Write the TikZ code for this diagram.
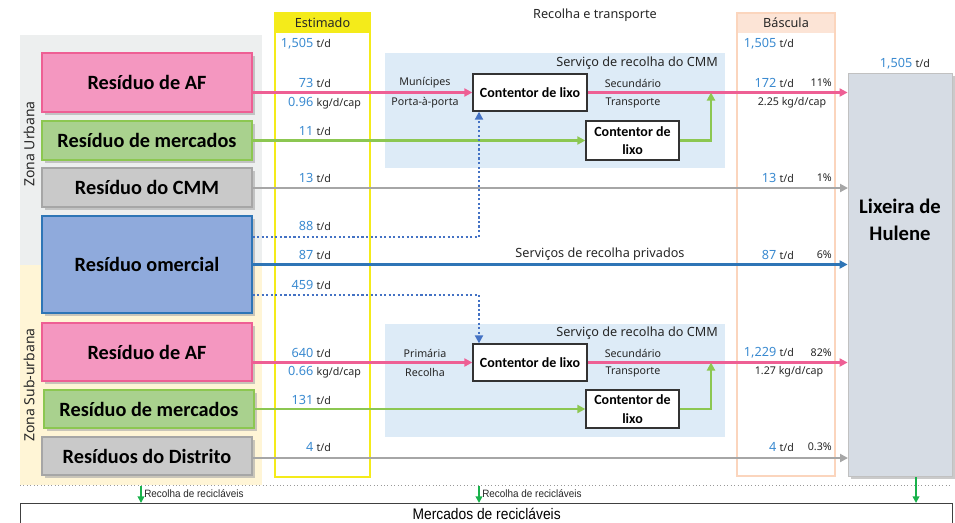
\documentclass[tikz,border=0pt]{standalone}
\usepackage{fontspec}
\setmainfont{Noto Sans}
\newfontfamily\boxfont{Carlito}
\newfontfamily\narrowfont{Liberation Sans}
\usetikzlibrary{shadows,arrows.meta}
\definecolor{urbbg}{HTML}{EDEFEF}
\definecolor{subbg}{HTML}{FFF5D6}
\definecolor{pinkf}{HTML}{F497C0}
\definecolor{pinkd}{HTML}{EE5F94}
\definecolor{greenf}{HTML}{A9D18E}
\definecolor{greend}{HTML}{8CC751}
\definecolor{grayf}{HTML}{C9C9C9}
\definecolor{grayd}{HTML}{A6A6A6}
\definecolor{bluef}{HTML}{8FAADC}
\definecolor{blued}{HTML}{2E75B6}
\definecolor{bluedot}{HTML}{4472C4}
\definecolor{svbg}{HTML}{DDEBF7}
\definecolor{lixf}{HTML}{D6DCE4}
\definecolor{yel}{HTML}{F4EB1A}
\definecolor{peach}{HTML}{FBD5BD}
\definecolor{peachf}{HTML}{FCE4D6}
\definecolor{numblue}{HTML}{3A8AD0}
\definecolor{txt}{HTML}{262626}
\definecolor{recg}{HTML}{19B24B}
\newcommand\nm[1]{{\fontsize{9.5}{11}\selectfont\color{numblue}#1}}
\newcommand\est[2]{\makebox[25.5pt][r]{\nm{#1}}\hspace{2.5pt}#2}
\tikzset{
  src/.style={draw, line width=1pt, minimum width=157.5pt, inner sep=0pt,
    font=\boxfont\bfseries\fontsize{15.2}{18}\selectfont,
    drop shadow={shadow xshift=2pt, shadow yshift=-2pt, fill=black!35, opacity=0.6}},
  cont/.style={draw=black!80, fill=white, line width=1pt, inner sep=0pt, align=center,
    font=\boxfont\bfseries\fontsize{10.5}{14}\selectfont},
  lbl/.style={inner sep=0pt, text=txt, font=\fontsize{8}{9.6}\selectfont},
  flow/.style={line width=2pt, -{Triangle[length=6pt,width=6pt]}},
  dotflow/.style={line width=2pt, bluedot, dash pattern=on 1.6pt off 1.8pt, -{Triangle[length=6pt,width=6pt]}},
  rec/.style={line width=1.3pt, recg, -{Triangle[length=5pt,width=5pt]}},
}
\begin{document}
\begin{tikzpicture}[x=0.75pt,y=-0.75pt]
\useasboundingbox (0,0) rectangle (955,522);
% zone backgrounds
\fill[urbbg] (20,35) rectangle (262,265);
\fill[subbg] (20,265) rectangle (262,485);
\node[lbl, rotate=90, font=\fontsize{10.5}{12}\selectfont] (zu) at (29,144) {Zona Urbana};
\node[lbl, rotate=90, font=\fontsize{10.5}{12}\selectfont] (zs) at (29,385) {Zona Sub-urbana};
% service areas
\fill[svbg] (385,53) rectangle (725,168);
\fill[svbg] (385,324) rectangle (725,437);
\node[lbl, anchor=east, font=\fontsize{9.5}{11}\selectfont] (sv1) at (718,63) {Serviço de recolha do CMM};
\node[lbl, anchor=east, font=\fontsize{9.5}{11}\selectfont] (sv2) at (718,333) {Serviço de recolha do CMM};
% columns
\fill[yel] (275,13) rectangle (370,33);
\draw[yel, line width=2pt] (275,13) rectangle (370,477);
\node[lbl, font=\fontsize{9.5}{11}\selectfont] (esth) at (322.5,23) {Estimado};
\fill[peachf] (737,13) rectangle (835,33);
\draw[peach, line width=1.6pt] (737,13) rectangle (835,476);
\node[lbl, font=\fontsize{9.5}{11}\selectfont] (basch) at (786,23) {Báscula};
\node[lbl, font=\fontsize{9.5}{11}\selectfont] (rt) at (595,15) {Recolha e transporte};
% source boxes
\node[src, fill=pinkf, draw=pinkd, minimum height=44.25pt] (afU) at (147,82.5) {Resíduo de AF};
\node[src, fill=greenf, draw=greend, minimum height=29.25pt] (merU) at (147,140.5) {Resíduo de mercados};
\node[src, fill=grayf, draw=grayd, minimum height=29.25pt] (cmmU) at (147,187.5) {Resíduo do CMM};
\node[src, fill=bluef, draw=blued, minimum height=72.75pt] (com) at (147,264.5) {Resíduo omercial};
\node[src, fill=pinkf, draw=pinkd, minimum height=43.5pt] (afS) at (147,352) {Resíduo de AF};
\node[src, fill=greenf, draw=greend, minimum height=28.5pt] (merS) at (149,409) {Resíduo de mercados};
\node[src, fill=grayf, draw=grayd, minimum height=28.5pt] (dist) at (147,456) {Resíduos do Distrito};
% containers
\node[cont, minimum width=85.5pt, minimum height=27.75pt] (c1) at (530,92.5) {Contentor de lixo};
\node[cont, minimum width=69.75pt, minimum height=29.25pt] (c2) at (632.5,140.5) {Contentor de\\lixo};
\node[cont, minimum width=85.5pt, minimum height=27.75pt] (c3) at (530,362.5) {Contentor de lixo};
\node[cont, minimum width=69.75pt, minimum height=28.5pt] (c4) at (632.5,409) {Contentor de\\lixo};
% landfill
\node[draw=grayd!70, fill=lixf, line width=0.6pt, minimum width=78pt, minimum height=302.25pt, inner sep=0pt,
  drop shadow={shadow xshift=2pt, shadow yshift=-2pt, fill=black!35, opacity=0.6}] (lix) at (900,274.5) {};
\node[align=center, inner sep=0pt, font=\boxfont\bfseries\fontsize{15.5}{20}\selectfont] (lixt) at (900,220) {Lixeira de\\Hulene};
% junction coordinates
\coordinate (j1) at (711,92.5);
\coordinate (j2) at (711,362.5);
\coordinate (d1) at (479,237);
\coordinate (d2) at (479,295);
% flows urban
\draw[flow, pinkd] (afU.east |- c1) -- (c1.west);
\draw[flow, pinkd] (c1.east) -- (c1.east -| lix.west);
\draw[flow, greend] (merU.east) -- (c2.west);
\draw[flow, greend] (c2.east) -| (j1);
\draw[flow, grayd, line width=1.5pt] (cmmU.east |- 0,188) -- (848,188) coordinate (g1) ;
\draw[dotflow] (com.east |- d1) -- (d1) -- (d1 |- c1.south);
\draw[flow, blued, line width=1.8pt] (com.east) -- (com.east -| lix.west);
\draw[dotflow] (com.east |- d2) -- (d2) -- (d2 |- c3.north);
% flows suburban
\draw[flow, pinkd] (afS.east |- c3) -- (c3.west);
\draw[flow, pinkd] (c3.east) -- (c3.east -| lix.west);
\draw[flow, greend] (merS.east) -- (c4.west);
\draw[flow, greend] (c4.east) -| (j2);
\draw[flow, grayd, line width=1.5pt] (dist.east |- 0,458) -- (848,458) coordinate (g2);
% service labels
\node[lbl] (m1) at (425,83) {Munícipes};
\node[lbl] (m2) at (425,103) {Porta-à-porta};
\node[lbl] (s1) at (633,83) {Secundário};
\node[lbl] (s2) at (633,103) {Transporte};
\node[lbl] (p1) at (425,353) {Primária};
\node[lbl] (p2) at (425,372) {Recolha};
\node[lbl] (s3) at (633,353) {Secundário};
\node[lbl] (s4) at (633,372) {Transporte};
\node[lbl, font=\fontsize{9.5}{11}\selectfont] (priv) at (600,254) {Serviços de recolha privados};
% Estimado values
\node[lbl, anchor=west] (e1) at (279,44) {\est{1,505}{t/d}};
\node[lbl, anchor=west] (e2) at (279,83) {\est{73}{t/d}};
\node[lbl, anchor=west] (e3) at (279,103) {\est{0.96}{kg/d/cap}};
\node[lbl, anchor=west] (e4) at (279,131) {\est{11}{t/d}};
\node[lbl, anchor=west] (e5) at (279,178) {\est{13}{t/d}};
\node[lbl, anchor=west] (e6) at (279,226) {\est{88}{t/d}};
\node[lbl, anchor=west] (e7) at (279,255) {\est{87}{t/d}};
\node[lbl, anchor=west] (e8) at (279,285) {\est{459}{t/d}};
\node[lbl, anchor=west] (e9) at (279,353) {\est{640}{t/d}};
\node[lbl, anchor=west] (e10) at (279,372) {\est{0.66}{kg/d/cap}};
\node[lbl, anchor=west] (e11) at (279,400) {\est{131}{t/d}};
\node[lbl, anchor=west] (e12) at (279,447) {\est{4}{t/d}};
% Bascula values
\node[lbl, anchor=west] (b1) at (742,44) {\est{1,505}{t/d}};
\node[lbl, anchor=west] (b2) at (742,83) {\est{172}{t/d}};
\node[lbl, anchor=east] (q2) at (832,83) {11\%};
\node[lbl] (b3) at (792,103) {2.25 kg/d/cap};
\node[lbl, anchor=west] (b4) at (742,178) {\est{13}{t/d}};
\node[lbl, anchor=east] (q4) at (832,178) {1\%};
\node[lbl, anchor=west] (b5) at (742,255) {\est{87}{t/d}};
\node[lbl, anchor=east] (q5) at (832,255) {6\%};
\node[lbl, anchor=west] (b6) at (742,353) {\est{1,229}{t/d}};
\node[lbl, anchor=east] (q6) at (832,353) {82\%};
\node[lbl] (b7) at (789,372) {1.27 kg/d/cap};
\node[lbl, anchor=west] (b8) at (742,447) {\est{4}{t/d}};
\node[lbl, anchor=east] (q8) at (832,447) {0.3\%};
\node[lbl, anchor=west] (top) at (878,64) {\est{1,505}{t/d}};
% bottom
\draw[black!40, line width=0.6pt, dotted] (20,485) -- (952,485);
\node[draw=black!75, line width=1pt, minimum width=699pt, minimum height=16pt, inner sep=0pt, anchor=north west,
  font=\narrowfont\fontsize{11.5}{13}\selectfont] (merc) at (20,503) {\scalebox{0.9}[1]{Mercados de recicláveis}};
\coordinate (r1) at (141,486);
\coordinate (r2) at (479,486);
\coordinate (r3) at (916,477);
\draw[rec] (r1) -- (r1 |- merc.north);
\draw[rec] (r2) -- (r2 |- merc.north);
\draw[rec] (r3) -- (r3 |- merc.north);
\node[lbl, anchor=west, font=\narrowfont\fontsize{8}{9}\selectfont] (rl1) at (144,494) {\scalebox{0.93}[1]{Recolha de recicláveis}};
\node[lbl, anchor=west, font=\narrowfont\fontsize{8}{9}\selectfont] (rl2) at (482,494) {\scalebox{0.93}[1]{Recolha de recicláveis}};
\end{tikzpicture}
\end{document}
